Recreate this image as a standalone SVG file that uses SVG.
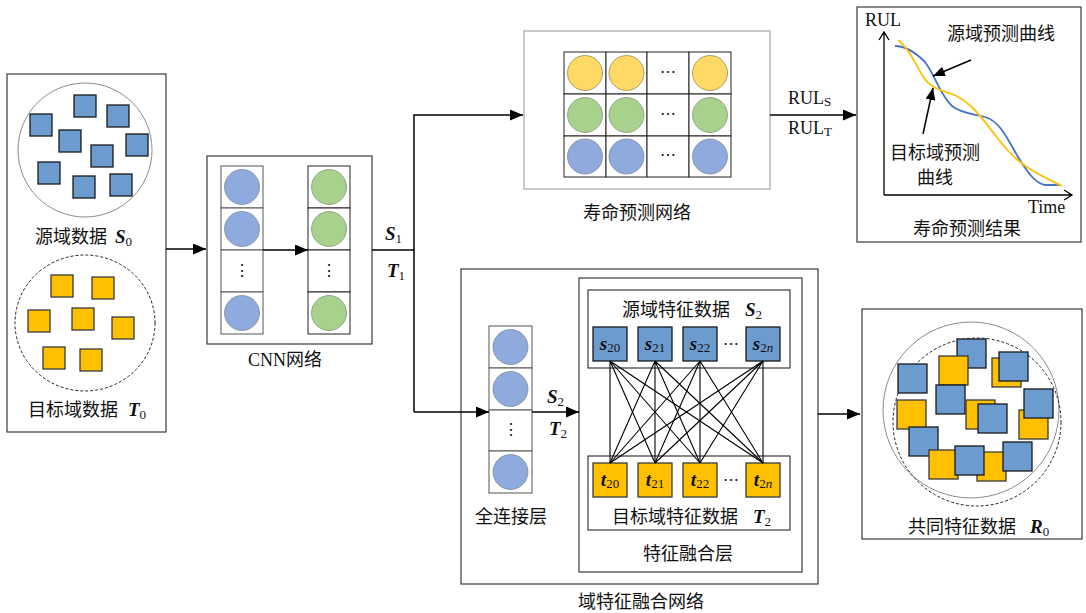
<svg xmlns="http://www.w3.org/2000/svg" width="1086" height="613" viewBox="0 0 1086 613">
  <style>
    .frame { fill: #ffffff; stroke: #3a3a3a; stroke-width: 1.2; }
    .frame-light { fill: #ffffff; stroke: #a6a6a6; stroke-width: 1.2; }
    .cell { fill: #ffffff; stroke: #222222; stroke-width: 1; }
    .cell-g { fill: #ffffff; stroke: #555555; stroke-width: 1; }
    .n-blue { fill: #8faadc; stroke: #7f8a99; stroke-width: 0.8; }
    .n-green { fill: #a9d18e; stroke: #7f997a; stroke-width: 0.8; }
    .n-yellow { fill: #ffd966; stroke: #9a8a55; stroke-width: 0.8; }
    .sq-b { fill: #6c9bcf; stroke: #1a1a1a; stroke-width: 1.3; }
    .sq-y { fill: #ffc000; stroke: #3a3a3a; stroke-width: 1.3; }
    .ring { fill: none; stroke: #8c8c8c; stroke-width: 1; }
    .ring-d { fill: none; stroke: #222222; stroke-width: 1; stroke-dasharray: 3 2; }
    .wire { fill: none; stroke: #000000; stroke-width: 1.5; }
    .mesh { fill: none; stroke: #000000; stroke-width: 1.1; }
    .zh { font-family: "Liberation Serif", "Noto Sans CJK SC", serif; font-size: 18px; fill: #111111; }
    .lat { font-family: "Liberation Serif", serif; font-size: 18px; fill: #111111; }
    .sym { font-family: "Liberation Serif", serif; font-size: 19px; font-weight: bold; font-style: italic; fill: #111111; }
    .sub { font-family: "Liberation Serif", serif; font-size: 13px; font-weight: normal; font-style: normal; }
    .dots { font-family: "Liberation Serif", serif; font-size: 16px; fill: #111111; text-anchor: middle; }
  </style>
  <defs>
    <marker id="head" markerUnits="userSpaceOnUse" markerWidth="13" markerHeight="11" refX="13" refY="5.5" orient="auto">
      <path d="M0,0 L13,5.5 L0,11 z" fill="#000000"/>
    </marker>
    <marker id="head-s" markerUnits="userSpaceOnUse" markerWidth="12" markerHeight="10" refX="12" refY="5" orient="auto">
      <path d="M0,0 L12,5 L0,10 z" fill="#000000"/>
    </marker>
  </defs>

  <!-- raw data: source domain and target domain samples -->
  <g id="raw-data">
    <rect class="frame" x="7" y="74" width="159" height="358"/>
    <circle class="ring" cx="85" cy="150" r="67"/>
    <rect class="sq-b" x="30" y="114" width="22" height="22"/>
    <rect class="sq-b" x="74" y="95" width="22" height="22"/>
    <rect class="sq-b" x="107" y="105" width="22" height="22"/>
    <rect class="sq-b" x="59" y="130" width="22" height="22"/>
    <rect class="sq-b" x="126" y="134" width="22" height="22"/>
    <rect class="sq-b" x="91" y="145" width="22" height="22"/>
    <rect class="sq-b" x="38" y="162" width="22" height="22"/>
    <rect class="sq-b" x="73" y="176" width="22" height="22"/>
    <rect class="sq-b" x="110" y="174" width="22" height="22"/>
    <text class="zh" x="35" y="243">源域数据</text>
    <text class="sym" x="115" y="243">S<tspan class="sub" dy="3">0</tspan></text>

    <ellipse class="ring-d" cx="85" cy="323" rx="70" ry="68"/>
    <rect class="sq-y" x="51" y="275" width="22" height="22"/>
    <rect class="sq-y" x="92" y="277" width="22" height="22"/>
    <rect class="sq-y" x="28" y="310" width="22" height="22"/>
    <rect class="sq-y" x="72" y="308" width="22" height="22"/>
    <rect class="sq-y" x="112" y="317" width="22" height="22"/>
    <rect class="sq-y" x="43" y="347" width="22" height="22"/>
    <rect class="sq-y" x="80" y="349" width="22" height="22"/>
    <text class="zh" x="28" y="416">目标域数据</text>
    <text class="sym" x="128" y="416">T<tspan class="sub" dy="3">0</tspan></text>
  </g>

  <!-- CNN feature extractor -->
  <g id="cnn">
    <rect class="frame" x="207" y="156" width="165" height="188"/>
    <rect class="cell-g" x="221" y="166" width="42" height="42"/>
    <rect class="cell-g" x="221" y="208" width="42" height="42"/>
    <rect class="cell-g" x="221" y="250" width="42" height="42"/>
    <rect class="cell-g" x="221" y="292" width="42" height="42"/>
    <circle class="n-blue" cx="242" cy="187" r="17.5"/>
    <circle class="n-blue" cx="242" cy="229" r="17.5"/>
    <text class="dots" x="242" y="276">⋮</text>
    <circle class="n-blue" cx="242" cy="313" r="17.5"/>
    <rect class="cell" x="308" y="166" width="42" height="42"/>
    <rect class="cell" x="308" y="208" width="42" height="42"/>
    <rect class="cell" x="308" y="250" width="42" height="42"/>
    <rect class="cell" x="308" y="292" width="42" height="42"/>
    <circle class="n-green" cx="329" cy="187" r="17.5"/>
    <circle class="n-green" cx="329" cy="229" r="17.5"/>
    <text class="dots" x="329" y="276">⋮</text>
    <circle class="n-green" cx="329" cy="313" r="17.5"/>
    <text class="zh" x="248" y="366">CNN网络</text>
  </g>

  <!-- life prediction network -->
  <g id="life-net">
    <rect class="frame-light" x="524" y="31" width="246" height="158"/>
    <g>
      <rect class="cell" x="564" y="52" width="42" height="42"/>
      <rect class="cell" x="606" y="52" width="41" height="42"/>
      <rect class="cell" x="647" y="52" width="42" height="42"/>
      <rect class="cell" x="689" y="52" width="42" height="42"/>
      <rect class="cell" x="564" y="94" width="42" height="42"/>
      <rect class="cell" x="606" y="94" width="41" height="42"/>
      <rect class="cell" x="647" y="94" width="42" height="42"/>
      <rect class="cell" x="689" y="94" width="42" height="42"/>
      <rect class="cell" x="564" y="136" width="42" height="41"/>
      <rect class="cell" x="606" y="136" width="41" height="41"/>
      <rect class="cell" x="647" y="136" width="42" height="41"/>
      <rect class="cell" x="689" y="136" width="42" height="41"/>
    </g>
    <circle class="n-yellow" cx="585" cy="73" r="17.5"/>
    <circle class="n-yellow" cx="626.5" cy="73" r="17.5"/>
    <circle class="n-yellow" cx="710" cy="73" r="17.5"/>
    <circle class="n-green" cx="585" cy="115" r="17.5"/>
    <circle class="n-green" cx="626.5" cy="115" r="17.5"/>
    <circle class="n-green" cx="710" cy="115" r="17.5"/>
    <circle class="n-blue" cx="585" cy="156.5" r="17.5"/>
    <circle class="n-blue" cx="626.5" cy="156.5" r="17.5"/>
    <circle class="n-blue" cx="710" cy="156.5" r="17.5"/>
    <text class="dots" x="668" y="77">⋯</text>
    <text class="dots" x="668" y="119">⋯</text>
    <text class="dots" x="668" y="160">⋯</text>
    <text class="zh" x="583" y="219">寿命预测网络</text>
  </g>

  <!-- life prediction result chart -->
  <g id="rul-chart">
    <rect class="frame" x="857" y="7" width="224" height="235" stroke="#000000"/>
    <path d="M884,195 L884,32 M879,40 L884,32 L889,40" fill="none" stroke="#000000" stroke-width="1.3"/>
    <path d="M884,195 L1072,195 M1064,190 L1072,195 L1064,200" fill="none" stroke="#000000" stroke-width="1.3"/>
    <path d="M895,46 C905,46 915,52 925,62 C935,75 940,95 952,106 C962,114 975,114 985,117 C1000,121 1008,140 1018,157 C1028,173 1035,183 1045,185 L1060,185" fill="none" stroke="#4472c4" stroke-width="1.8"/>
    <path d="M898,40 C908,48 915,62 922,75 C930,88 940,90 952,94 C968,100 980,115 992,131 C1005,148 1015,160 1030,169 C1043,177 1052,181 1062,186" fill="none" stroke="#ffc000" stroke-width="1.8"/>
    <line class="wire" x1="971" y1="60" x2="933" y2="76" marker-end="url(#head-s)"/>
    <line class="wire" x1="923" y1="134" x2="933" y2="88" marker-end="url(#head-s)"/>
    <text class="lat" x="865" y="26" font-size="17">RUL</text>
    <text class="lat" x="1028" y="213">Time</text>
    <text class="zh" x="947" y="40">源域预测曲线</text>
    <text class="zh" x="890" y="159">目标域预测</text>
    <text class="zh" x="917" y="184">曲线</text>
    <text class="zh" x="913" y="235">寿命预测结果</text>
  </g>

  <!-- domain feature fusion network -->
  <g id="fusion-net">
    <rect class="frame" x="461" y="269" width="357" height="315"/>
    <text class="zh" x="578" y="608">域特征融合网络</text>
  </g>

  <!-- fully connected layer -->
  <g id="fc-layer">
    <rect class="cell-g" x="489" y="326" width="43" height="42"/>
    <rect class="cell-g" x="489" y="368" width="43" height="42"/>
    <rect class="cell-g" x="489" y="410" width="43" height="41"/>
    <rect class="cell-g" x="489" y="451" width="43" height="42"/>
    <circle class="n-blue" cx="510.5" cy="347" r="17.5"/>
    <circle class="n-blue" cx="510.5" cy="389" r="17.5"/>
    <text class="dots" x="510.5" y="435">⋮</text>
    <circle class="n-blue" cx="510.5" cy="472" r="17.5"/>
    <text class="zh" x="475" y="523">全连接层</text>
  </g>

  <!-- feature fusion layer -->
  <g id="fusion-layer">
    <rect class="frame" x="579" y="278" width="223" height="294" stroke="#000000"/>
    <rect class="frame" x="588" y="290" width="202" height="78"/>
    <rect class="frame" x="588" y="456" width="202" height="74"/>
    <text class="zh" x="622" y="316">源域特征数据</text>
    <text class="sym" x="745" y="316">S<tspan class="sub" dy="3">2</tspan></text>
    <text class="zh" x="612" y="523">目标域特征数据</text>
    <text class="sym" x="753" y="523">T<tspan class="sub" dy="3">2</tspan></text>
    <text class="zh" x="643" y="560">特征融合层</text>
  </g>

  <g id="source-features">
    <rect class="sq-b" x="593" y="327" width="34" height="34"/>
    <rect class="sq-b" x="638" y="327" width="34" height="34"/>
    <rect class="sq-b" x="683" y="327" width="34" height="34"/>
    <rect class="sq-b" x="746" y="327" width="34" height="34"/>
    <text class="sym" x="610" y="350" font-size="17" text-anchor="middle">s<tspan class="sub" dy="2">20</tspan></text>
    <text class="sym" x="655" y="350" font-size="17" text-anchor="middle">s<tspan class="sub" dy="2">21</tspan></text>
    <text class="sym" x="700" y="350" font-size="17" text-anchor="middle">s<tspan class="sub" dy="2">22</tspan></text>
    <text class="sym" x="763" y="350" font-size="17" text-anchor="middle">s<tspan class="sub" dy="2">2<tspan font-style="italic">n</tspan></tspan></text>
    <text class="dots" x="731" y="349">⋯</text>
  </g>

  <g id="target-features">
    <rect class="sq-y" x="593" y="463" width="34" height="34"/>
    <rect class="sq-y" x="638" y="463" width="34" height="34"/>
    <rect class="sq-y" x="683" y="463" width="34" height="34"/>
    <rect class="sq-y" x="746" y="463" width="34" height="34"/>
    <text class="sym" x="610" y="486" font-size="17" text-anchor="middle">t<tspan class="sub" dy="2">20</tspan></text>
    <text class="sym" x="655" y="486" font-size="17" text-anchor="middle">t<tspan class="sub" dy="2">21</tspan></text>
    <text class="sym" x="700" y="486" font-size="17" text-anchor="middle">t<tspan class="sub" dy="2">22</tspan></text>
    <text class="sym" x="763" y="486" font-size="17" text-anchor="middle">t<tspan class="sub" dy="2">2<tspan font-style="italic">n</tspan></tspan></text>
    <text class="dots" x="731" y="485">⋯</text>
  </g>

  <!-- common feature data -->
  <g id="common-features">
    <rect class="frame" x="862" y="309" width="220" height="230"/>
    <circle class="ring" cx="971" cy="410" r="88"/>
    <circle class="ring-d" cx="977" cy="422" r="84"/>
    <rect class="sq-b" x="957" y="339" width="29" height="29"/>
    <rect class="sq-y" x="939" y="356" width="29" height="29"/>
    <rect class="sq-y" x="992" y="358" width="29" height="29"/>
    <rect class="sq-b" x="999" y="352" width="29" height="29"/>
    <rect class="sq-b" x="898" y="364" width="29" height="29"/>
    <rect class="sq-b" x="936" y="385" width="29" height="29"/>
    <rect class="sq-y" x="966" y="400" width="29" height="29"/>
    <rect class="sq-b" x="978" y="404" width="29" height="29"/>
    <rect class="sq-y" x="1019" y="410" width="29" height="29"/>
    <rect class="sq-b" x="1024" y="389" width="29" height="29"/>
    <rect class="sq-y" x="897" y="400" width="29" height="29"/>
    <rect class="sq-b" x="909" y="427" width="29" height="29"/>
    <rect class="sq-y" x="929" y="450" width="29" height="29"/>
    <rect class="sq-y" x="977" y="452" width="29" height="29"/>
    <rect class="sq-b" x="955" y="446" width="29" height="29"/>
    <rect class="sq-b" x="1003" y="442" width="29" height="29"/>
    <text class="zh" x="908" y="533">共同特征数据</text>
    <text class="sym" x="1030" y="533">R<tspan class="sub" dy="3">0</tspan></text>
  </g>

  <!-- connectors -->
  <g id="connectors">
    <line class="wire" x1="166" y1="249" x2="206" y2="249" marker-end="url(#head)"/>
    <line class="wire" x1="263" y1="250" x2="308" y2="250" marker-end="url(#head)"/>
    <polyline class="wire" points="372,250 414,250"/>
    <polyline class="wire" points="414,412 414,115 523,115" marker-end="url(#head)"/>
    <line class="wire" x1="414" y1="412" x2="489" y2="412" marker-end="url(#head)"/>
    <line class="wire" x1="532" y1="412" x2="579" y2="412" marker-end="url(#head)"/>
    <line class="wire" x1="770" y1="115" x2="856" y2="115" marker-end="url(#head)"/>
    <line class="wire" x1="818" y1="414" x2="860" y2="414" marker-end="url(#head)"/>
    <g class="mesh">
      <path d="M610,361 L610,463 M610,361 L655,463 M610,361 L700,463 M610,361 L763,463"/>
      <path d="M655,361 L610,463 M655,361 L655,463 M655,361 L700,463 M655,361 L763,463"/>
      <path d="M700,361 L610,463 M700,361 L655,463 M700,361 L700,463 M700,361 L763,463"/>
      <path d="M763,361 L610,463 M763,361 L655,463 M763,361 L700,463 M763,361 L763,463"/>
    </g>
    <text class="sym" x="385" y="240">S<tspan class="sub" dy="3">1</tspan></text>
    <text class="sym" x="387" y="277">T<tspan class="sub" dy="3">1</tspan></text>
    <text class="sym" x="547" y="403">S<tspan class="sub" dy="3">2</tspan></text>
    <text class="sym" x="549" y="435">T<tspan class="sub" dy="3">2</tspan></text>
    <text class="lat" x="788" y="104">RUL<tspan font-size="13" dy="2">S</tspan></text>
    <text class="lat" x="788" y="134">RUL<tspan font-size="13" dy="2">T</tspan></text>
  </g>
</svg>
